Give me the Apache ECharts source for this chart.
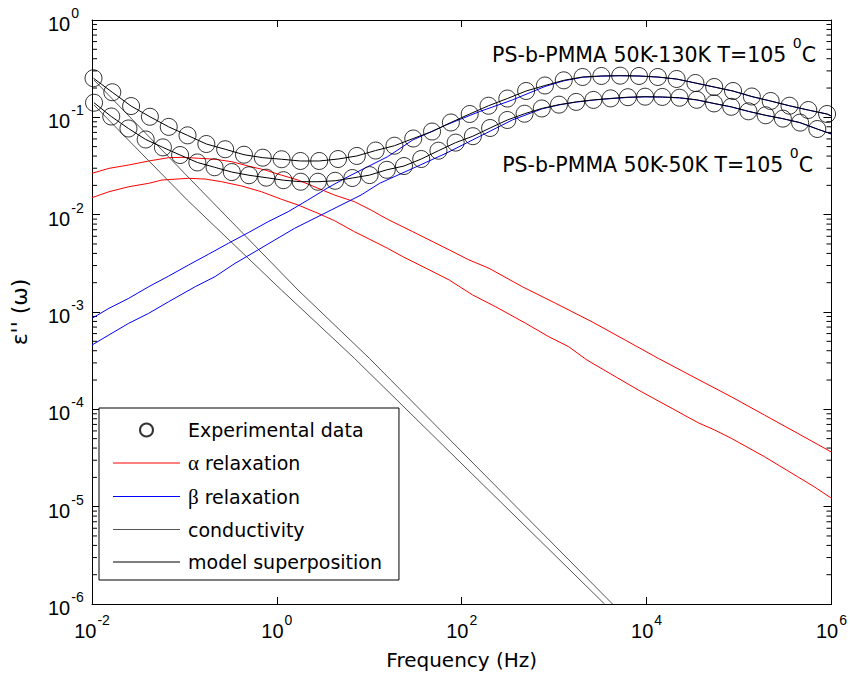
<!DOCTYPE html>
<html><head><meta charset="utf-8">
<script src="https://cdn.jsdelivr.net/npm/echarts@6/dist/echarts.min.js"></script>
<style>html,body{margin:0;padding:0;background:#fff}#c{width:850px;height:679px}</style>
</head><body><div id="c"></div>
<script>
// ---- data (A = 50K-130K, B = 50K-50K) ----
const freqExpA = [0.01038,0.01658,0.02649,0.04231,0.06761,0.1080,0.1726,0.2757,0.4406,0.7040,1.125,1.797,2.871,4.587,7.328,11.71,18.71,29.89,47.75,76.30,121.9,194.8,311.2,497.2,794.3,1269,2028,3240,5176,8271,13213,21112,33729,53889,86099,137560,219786,351152,561048,896415];
const epsExpA = [0.252,0.181,0.1306,0.1014,0.0798,0.0653,0.0532,0.0470,0.0413,0.0385,0.0371,0.0356,0.0356,0.0373,0.0401,0.0456,0.0511,0.0606,0.0715,0.0885,0.1082,0.1316,0.156,0.1865,0.2123,0.240,0.2597,0.266,0.268,0.266,0.2597,0.2477,0.2254,0.205,0.1865,0.1637,0.1472,0.1316,0.1189,0.1082];

const freqExpB = [0.01052,0.01615,0.0248,0.0381,0.0585,0.0898,0.1379,0.2119,0.3254,0.4996,0.767,1.178,1.810,2.779,4.268,6.554,10.07,15.46,23.73,36.45,55.98,85.97,132.0,202.7,311.3,478.1,734.2,1127,1731,2659,4083,6270,9630,14788,22710,34877,53562,82256,126330,194000,297850,457400,702400];
const epsExpB = [0.1413,0.1020,0.0768,0.0592,0.0491,0.0410,0.0344,0.0307,0.0274,0.0254,0.0240,0.0226,0.0218,0.0218,0.0223,0.0238,0.0255,0.0289,0.0316,0.0373,0.0454,0.0550,0.0640,0.0777,0.0939,0.1089,0.1233,0.135,0.1440,0.1510,0.1565,0.161,0.163,0.162,0.159,0.1514,0.139,0.1283,0.1153,0.105,0.097,0.0883,0.0759];

const freqModelA = [0.01038,0.01658,0.02649,0.04231,0.06761,0.1080,0.1726,0.2757,0.4406,0.7040,1.125,1.797,2.871,4.587,7.328,11.71,18.71,29.89,47.75,76.30,121.9,194.8,311.2,497.2,794.3,1269,2028,3240,5176,8271,13213,21112,33729,53889,86099,137560,219786,351152,561048,896415,1000000];
const epsModelA = [0.252,0.181,0.1306,0.1014,0.0798,0.0653,0.0532,0.0470,0.0413,0.0385,0.0371,0.0356,0.0356,0.0373,0.0401,0.0456,0.0511,0.0606,0.0715,0.0885,0.1082,0.1316,0.156,0.1865,0.2123,0.240,0.2597,0.266,0.268,0.266,0.2597,0.2477,0.2254,0.205,0.1865,0.1637,0.1472,0.1316,0.1189,0.1082,0.103];
const freqModelB = [0.01052,0.01615,0.0248,0.0381,0.0585,0.0898,0.1379,0.2119,0.3254,0.4996,0.767,1.178,1.810,2.779,4.268,6.554,10.07,15.46,23.73,36.45,55.98,85.97,132.0,202.7,311.3,478.1,734.2,1127,1731,2659,4083,6270,9630,14788,22710,34877,53562,82256,126330,194000,297850,457400,702400,1000000];
const epsModelB = [0.1413,0.1020,0.0768,0.0592,0.0491,0.0410,0.0344,0.0307,0.0274,0.0254,0.0240,0.0226,0.0218,0.0218,0.0223,0.0238,0.0255,0.0289,0.0316,0.0373,0.0454,0.0550,0.0640,0.0777,0.0939,0.1089,0.1233,0.135,0.1440,0.1510,0.1565,0.161,0.163,0.162,0.159,0.1514,0.139,0.1283,0.1153,0.105,0.097,0.0883,0.0759,0.0674];

const freqAlphaA = [0.01,0.01524,0.0250,0.0411,0.0675,0.0938,0.1419,0.2147,0.3243,0.490,0.741,1.119,1.694,2.781,4.206,6.905,10.42,15.77,29.53,73.3,120.4,197.7,451.6,1033,2560,5861,13370,36060,82350,188400,430200,1000000];
const epsAlphaA = [0.0266,0.0299,0.0324,0.0356,0.0385,0.0388,0.0380,0.0371,0.0350,0.0316,0.0288,0.0255,0.0227,0.0187,0.0159,0.0136,0.01116,0.00896,0.00668,0.00434,0.00342,0.00281,0.00182,0.00123,0.000794,0.000515,0.000334,0.000203,0.0001346,0.0000873,0.0000567,0.0000364];
const freqAlphaB = [0.01,0.01524,0.0250,0.0411,0.0571,0.1107,0.1675,0.2528,0.4152,0.682,1.119,1.694,2.781,4.206,6.905,10.42,15.77,23.07,41.2,73.3,130.6,233.4,491,874.6,1436,2264,8128,36060,54550,82350,188400,430200,651600,1000000];
const epsAlphaB = [0.01494,0.0172,0.01937,0.0210,0.0227,0.02364,0.02324,0.0218,0.0197,0.0172,0.0144,0.01257,0.01033,0.00867,0.00668,0.0055,0.00451,0.0037,0.00281,0.00213,0.0015,0.00113,0.000766,0.000557,0.00044,0.000321,0.000158,0.0000729,0.0000613,0.0000504,0.0000326,0.0000203,0.0000160,0.0000122];

const freqBetaA = [0.01,0.01524,0.0250,0.0411,0.0675,0.1107,0.1818,0.2986,0.490,0.805,1.322,2.168,3.562,5.85,9.61,15.77,29.53,67.6,154.3,352.4,794.3,1269,2028,3240,5176,8271,13213,21112,33729,53889,86099,137560,219786,351152,561048,896415,1000000];
const epsBetaA = [0.000861,0.00109,0.001383,0.00182,0.00234,0.00304,0.00392,0.00508,0.00653,0.00847,0.01072,0.01415,0.0189,0.0245,0.0311,0.0394,0.0585,0.0834,0.1142,0.1507,0.2074,0.2370,0.2580,0.2650,0.2675,0.2655,0.2590,0.2470,0.2250,0.2045,0.1860,0.1632,0.1468,0.1312,0.1186,0.1080,0.103];
const freqBetaB = [0.01,0.01524,0.0250,0.0411,0.0675,0.1309,0.2147,0.3524,0.579,0.951,1.561,3.02,4.956,8.13,12.94,29.53,67.6,154.3,352.4,734.2,1127,1731,2659,4083,6270,9630,14788,22710,34877,53562,82256,126330,194000,297850,457400,702400,1000000];
const epsBetaB = [0.000458,0.000581,0.000766,0.000970,0.001276,0.00182,0.00231,0.00316,0.00416,0.0055,0.00725,0.00993,0.01257,0.0159,0.0210,0.0299,0.0427,0.0633,0.0939,0.1220,0.1340,0.1435,0.1505,0.1555,0.160,0.1622,0.1612,0.1582,0.1508,0.1385,0.1278,0.1150,0.1047,0.0967,0.0880,0.0757,0.0674];

const freqCondA = [0.0105,0.191,1.694,10.02,4276];
const epsCondA = [0.242,0.01416,0.001683,0.000334,0.000001];
const freqCondB = [0.0105,0.1072,1.119,6.905,3508];
const epsCondB = [0.134,0.01416,0.001683,0.000334,0.000001];

const minorMantissas = [2,3,4,5,6,7,8,9];
const minorDecades = [-6,-5,-4,-3,-2,-1];

const legendNames = ['Experimental data','α relaxation','β relaxation','conductivity','model superposition'];
const sampleLabelA = 'PS-b-PMMA 50K-130K T=105 ';
const sampleLabelB = 'PS-b-PMMA 50K-50K T=105 ';
const xName = 'Frequency (Hz)';
const yName = "ε'' (ω)";

// ---- build ----
const zip = (f, e) => f.map((v, i) => [v, e[i]]);
const minorData = [];
minorDecades.forEach(d => minorMantissas.forEach(m => minorData.push([0.01, m * Math.pow(10, d)])));

const tickFont = 'Liberation Sans';
const textFont = 'DejaVu Sans';
const richTick = {
  b: {fontSize: 20, fontFamily: tickFont, color: '#000', padding: [8, 0, 0, 0], verticalAlign: 'bottom'},
  s: {fontSize: 14, fontFamily: tickFont, color: '#000', padding: [0, 0, 0, 1], verticalAlign: 'top'}
};
const fmtX = v => { const e = Math.round(Math.log10(v)); return (e % 2 === 0) ? '{b|10}{s|' + e + '}' : ''; };
const fmtY = v => '{b|10}{s|' + Math.round(Math.log10(v)) + '}';

const axisCommonX = {
  type: 'log', logBase: 10, min: 0.01, max: 1e6, interval: 2,
  axisLine: {show: true, lineStyle: {color: '#000', width: 1}},
  axisTick: {show: true, inside: true, length: 7, lineStyle: {color: '#000'}},
  splitLine: {show: false}, minorTick: {show: false}
};
const axisCommonY = {
  type: 'log', logBase: 10, min: 1e-6, max: 1, splitNumber: 6,
  axisLine: {show: true, lineStyle: {color: '#000', width: 1}},
  axisTick: {show: true, inside: true, length: 8, lineStyle: {color: '#000'}},
  splitLine: {show: false}, minorTick: {show: false}
};

const chart = echarts.init(document.getElementById('c'), null, {renderer: 'svg'});
const lineIcon = 'path://M0,0M67,13M0,6L67,6L67,7L0,7Z';
const lineS = (name, data, color) => ({
  type: 'line', name, data, symbol: 'none', showSymbol: false, animation: false,
  lineStyle: {color, width: 1}, itemStyle: {color}, z: 2
});
const expStyle = {color: 'rgba(0,0,0,0)', borderColor: '#000', borderWidth: 1};
const supRich = {
  n: {fontFamily: textFont, fontSize: 20.5, fill: '#000', padding: [8, 0, 0, 0], verticalAlign: 'bottom'},
  s: {fontFamily: textFont, fontSize: 14, fill: '#000', verticalAlign: 'top'}
};

chart.setOption({
  animation: false,
  backgroundColor: '#fff',
  grid: {left: 91, right: 16, top: 20, bottom: 75, containLabel: false},
  xAxis: [
    Object.assign({}, axisCommonX, {position: 'bottom',
      axisLabel: {show: true, margin: 9, formatter: fmtX, rich: richTick},
      name: xName, nameLocation: 'middle', nameGap: 46,
      nameTextStyle: {fontFamily: textFont, fontSize: 20, color: '#000'}}),
    Object.assign({}, axisCommonX, {position: 'top', axisLabel: {show: false}})
  ],
  yAxis: [
    Object.assign({}, axisCommonY, {position: 'left',
      axisLabel: {show: true, align: 'left', margin: 44, formatter: fmtY, rich: richTick},
      name: yName, nameLocation: 'middle', nameGap: 62, nameRotate: 90,
      nameTextStyle: {fontFamily: textFont, fontSize: 22, color: '#000'}}),
    Object.assign({}, axisCommonY, {position: 'right', axisLabel: {show: false}})
  ],
  legend: {
    data: [
      {name: legendNames[0]},
      {name: legendNames[1], icon: lineIcon},
      {name: legendNames[2], icon: lineIcon},
      {name: legendNames[3], icon: lineIcon},
      {name: legendNames[4], icon: lineIcon}
    ],
    orient: 'vertical', left: 99, top: 408,
    itemWidth: 67, itemHeight: 13, itemGap: 12.5, symbolKeepAspect: true,
    padding: [12, 17, 8, 14],
    borderColor: '#000', borderWidth: 1, backgroundColor: '#fff',
    selectedMode: false,
    textStyle: {fontFamily: textFont, fontSize: 19, color: '#000', lineHeight: 20, padding: [0, 0, 0, 3],
      rich: {g: {fontFamily: 'Liberation Serif', fontSize: 21, color: '#000', lineHeight: 20}}},
    formatter: n => n.replace(/^([αβ])/, '{g|$1}')
  },
  graphic: [
    {type: 'text', right: 850 - 816, top: 36, z: 10,
      style: {text: '{n|' + sampleLabelA + '}{s|0}{n|C}', rich: supRich}},
    {type: 'text', right: 850 - 813, top: 146, z: 10,
      style: {text: '{n|' + sampleLabelB + '}{s|0}{n|C}', rich: supRich}}
  ],
  series: [
    lineS('α relaxation', zip(freqAlphaA, epsAlphaA), '#ff0000'),
    lineS('α relaxation', zip(freqAlphaB, epsAlphaB), '#ff0000'),
    lineS('conductivity', zip(freqCondA, epsCondA), '#555555'),
    lineS('conductivity', zip(freqCondB, epsCondB), '#555555'),
    lineS('β relaxation', zip(freqBetaA, epsBetaA), '#0000ff'),
    lineS('β relaxation', zip(freqBetaB, epsBetaB), '#0000ff'),
    lineS('model superposition', zip(freqModelA, epsModelA), '#000000'),
    lineS('model superposition', zip(freqModelB, epsModelB), '#000000'),
    {type: 'scatter', name: 'Experimental data', data: zip(freqExpA, epsExpA), symbol: 'circle', symbolSize: 17, itemStyle: expStyle, z: 3},
    {type: 'scatter', name: 'Experimental data', data: zip(freqExpB, epsExpB), symbol: 'circle', symbolSize: 17, itemStyle: expStyle, z: 3},
    {type: 'custom', name: 'minor', data: minorData, silent: true, clip: false, z: 1,
      encode: {x: 0, y: 1},
      renderItem: (params, api) => {
        const v = api.value(1);
        const pL = api.coord([0.01, v]);
        const pR = api.coord([1e6, v]);
        return {type: 'group', children: [
          {type: 'line', shape: {x1: pL[0], y1: pL[1], x2: pL[0] + 5, y2: pL[1]}, style: {stroke: '#000', lineWidth: 1}},
          {type: 'line', shape: {x1: pR[0] - 5, y1: pR[1], x2: pR[0], y2: pR[1]}, style: {stroke: '#000', lineWidth: 1}}
        ]};
      }}
  ]
});
</script></body></html>
